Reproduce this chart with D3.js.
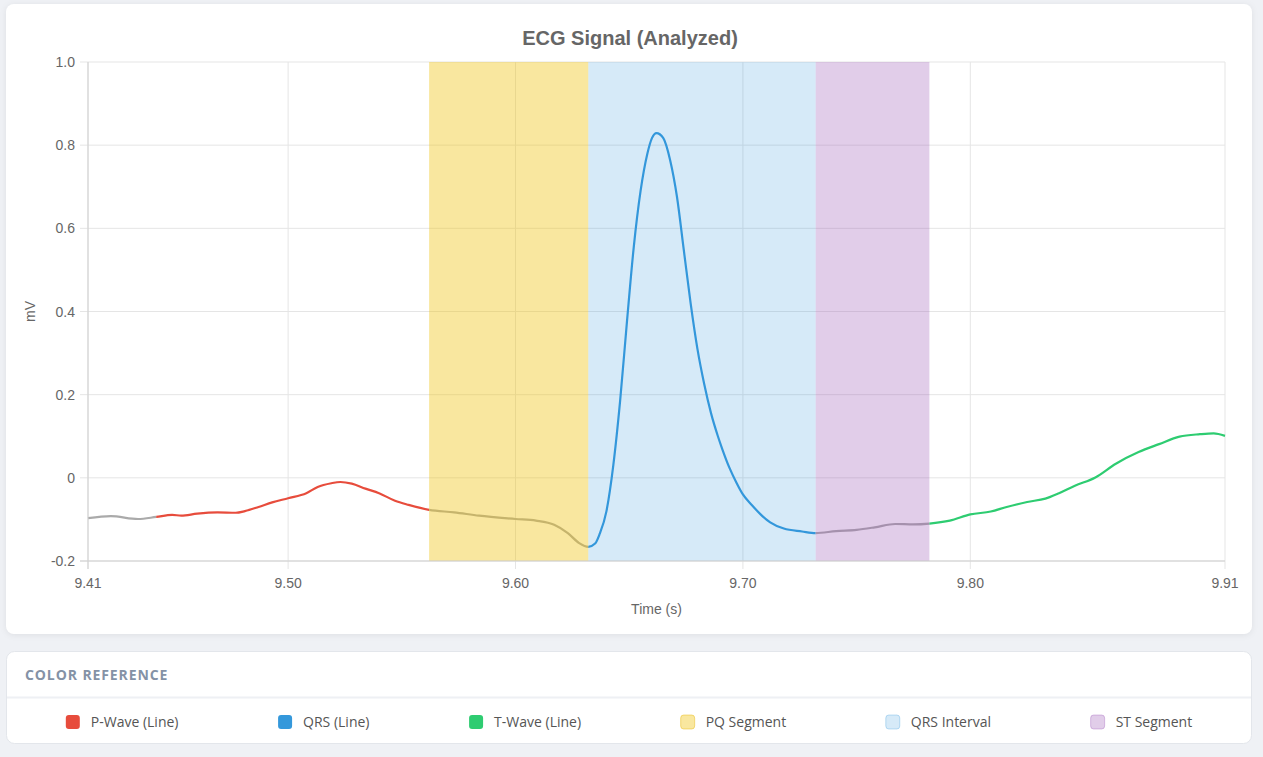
<!DOCTYPE html>
<html>
<head>
<meta charset="utf-8">
<script src="https://d3js.org/d3.v7.min.js"></script>
<style>
    body { margin: 0; background: #eff1f5; }
    svg { display: block; }
</style>
</head>
<body>
<svg width="1263" height="757"></svg>
<script>
    // ECG samples (s, mV)
    var times = [9.412, 9.422, 9.434, 9.442, 9.449, 9.453, 9.460, 9.469, 9.477, 9.481,
        9.487, 9.493, 9.500, 9.508, 9.513, 9.519, 9.523, 9.528, 9.534, 9.540,
        9.547, 9.553, 9.562, 9.573, 9.584, 9.600, 9.609, 9.617, 9.623, 9.628,
        9.632, 9.635, 9.637, 9.640, 9.643, 9.646, 9.649, 9.652, 9.655, 9.658,
        9.660, 9.662, 9.665, 9.668, 9.671, 9.674, 9.677, 9.680, 9.683, 9.686,
        9.689, 9.691, 9.694, 9.697, 9.700, 9.704, 9.708, 9.712, 9.718, 9.726,
        9.732, 9.741, 9.750, 9.758, 9.767, 9.775, 9.782, 9.791, 9.800, 9.809,
        9.816, 9.825, 9.833, 9.839, 9.846, 9.855, 9.864, 9.874, 9.883, 9.892,
        9.901, 9.907, 9.912];
    var values = [-0.097, -0.092, -0.099, -0.094, -0.089, -0.091, -0.086, -0.083, -0.084, -0.080,
        -0.070, -0.059, -0.049, -0.037, -0.022, -0.013, -0.010, -0.014, -0.026, -0.037,
        -0.055, -0.065, -0.077, -0.083, -0.091, -0.099, -0.103, -0.113, -0.133, -0.157,
        -0.166, -0.158, -0.135, -0.080, 0.030, 0.185, 0.375, 0.555, 0.690, 0.780,
        0.817, 0.829, 0.817, 0.764, 0.676, 0.548, 0.420, 0.310, 0.225, 0.155,
        0.100, 0.068, 0.025, -0.010, -0.040, -0.066, -0.089, -0.107, -0.122, -0.129,
        -0.133, -0.128, -0.125, -0.119, -0.111, -0.112, -0.110, -0.103, -0.088, -0.081,
        -0.070, -0.058, -0.050, -0.037, -0.019, 0.001, 0.034, 0.062, 0.081, 0.099,
        0.105, 0.107, 0.101];

    // line colouring: phase boundaries and the colour for each piece
    var lineBreaks = [9.412, 9.442, 9.562, 9.632, 9.732, 9.782, 9.912];
    var lineColors = ["#aaaaaa", "#e74c3c", "#aaaaaa", "#3498db", "#aaaaaa", "#2ecc71"];

    // shaded intervals
    var bandNames = ["PQ Segment", "QRS Interval", "ST Segment"];
    var bandStart = [9.562, 9.632, 9.732];
    var bandEnd = [9.632, 9.732, 9.782];
    var bandFill = ["rgba(241,196,15,0.4)", "rgba(52,152,219,0.2)", "rgba(155,89,182,0.3)"];
    var bandStroke = ["rgba(230,185,10,0.45)", "rgba(52,152,219,0.3)", "rgba(155,89,182,0.35)"];

    var xTicks = [9.412, 9.50, 9.60, 9.70, 9.80, 9.912];
    var yTicks = [-0.2, 0, 0.2, 0.4, 0.6, 0.8, 1.0];

    var legendNames = ["P-Wave (Line)", "QRS (Line)", "T-Wave (Line)"].concat(bandNames);
    var legendFill = ["#e74c3c", "#3498db", "#2ecc71"].concat(bandFill);
    var legendStroke = ["none", "none", "none"].concat(bandStroke);

    var svg = d3.select("svg");

    // cards
    svg.append("rect")
        .attr("x", 6).attr("y", 4).attr("width", 1246).attr("height", 630)
        .attr("rx", 8).attr("fill", "#fff")
        .style("filter", "drop-shadow(0 1px 3px rgba(0,0,0,0.07))");
    svg.append("rect")
        .attr("x", 6.5).attr("y", 651.5).attr("width", 1245).attr("height", 92)
        .attr("rx", 8).attr("fill", "#fff").attr("stroke", "#e3e6eb");

    var margin = { left: 88, right: 1225, top: 62, bottom: 561 };

    var x = d3.scaleLinear().domain([9.412, 9.912]).range([margin.left, margin.right]);
    var y = d3.scaleLinear().domain([-0.2, 1.0]).range([margin.bottom, margin.top]);

    var plot = svg.append("g");

    // grid
    plot.append("g").selectAll("line")
        .data(xTicks).enter().append("line")
        .attr("x1", function(d) { return x(d); }).attr("x2", function(d) { return x(d); })
        .attr("y1", margin.top).attr("y2", margin.bottom + 8)
        .attr("stroke", "#e5e5e5");
    plot.append("g").selectAll("line")
        .data(yTicks).enter().append("line")
        .attr("x1", margin.left - 8).attr("x2", margin.right)
        .attr("y1", function(d) { return y(d); }).attr("y2", function(d) { return y(d); })
        .attr("stroke", "#e5e5e5");

    // signal, one clipped copy per phase colour
    var pts = times.map(function(t, i) { return [t, values[i]]; });
    var line = d3.line()
        .x(function(d) { return x(d[0]); })
        .y(function(d) { return y(d[1]); })
        .curve(d3.curveMonotoneX);

    var defs = svg.append("defs");
    lineColors.forEach(function(c, i) {
        defs.append("clipPath").attr("id", "seg" + i)
            .append("rect")
            .attr("x", x(lineBreaks[i]) - (i === 0 ? 3 : 0))
            .attr("width", x(lineBreaks[i + 1]) - x(lineBreaks[i]) + (i === 0 || i === lineColors.length - 1 ? 3 : 0))
            .attr("y", 0).attr("height", 757);
        plot.append("path")
            .attr("d", line(pts))
            .attr("fill", "none")
            .attr("stroke", c)
            .attr("stroke-width", 2.2)
            .attr("stroke-linejoin", "round")
            .attr("clip-path", "url(#seg" + i + ")");
    });

    // shaded intervals on top of the trace
    plot.append("g").selectAll("rect")
        .data(bandNames).enter().append("rect")
        .attr("x", function(d, i) { return x(bandStart[i]); })
        .attr("width", function(d, i) { return x(bandEnd[i]) - x(bandStart[i]); })
        .attr("y", margin.top)
        .attr("height", margin.bottom - margin.top)
        .attr("fill", function(d, i) { return bandFill[i]; });

    // axis borders
    plot.append("line")
        .attr("x1", margin.left).attr("x2", margin.left)
        .attr("y1", margin.top).attr("y2", margin.bottom + 8)
        .attr("stroke", "#d0d0d0");
    plot.append("line")
        .attr("x1", margin.left - 8).attr("x2", margin.right)
        .attr("y1", margin.bottom).attr("y2", margin.bottom)
        .attr("stroke", "#d0d0d0");

    var tickFont = "'Liberation Sans', Arial, sans-serif";

    plot.append("g").selectAll("text")
        .data(xTicks).enter().append("text")
        .attr("x", function(d) { return x(d); })
        .attr("y", 588)
        .attr("text-anchor", "middle")
        .style("font", "14px " + tickFont)
        .attr("fill", "#666")
        .text(function(d) { return d.toFixed(2); });

    plot.append("g").selectAll("text")
        .data(yTicks).enter().append("text")
        .attr("x", margin.left - 13)
        .attr("y", function(d) { return y(d) + 5; })
        .attr("text-anchor", "end")
        .style("font", "14px " + tickFont)
        .attr("fill", "#666")
        .text(function(d) { return d === 0 ? "0" : d.toFixed(1); });

    svg.append("text")
        .attr("x", (margin.left + margin.right) / 2)
        .attr("y", 614)
        .attr("text-anchor", "middle")
        .style("font", "14px " + tickFont)
        .attr("fill", "#666")
        .text("Time (s)");

    svg.append("text")
        .attr("transform", "translate(35," + (margin.top + margin.bottom) / 2 + ") rotate(-90)")
        .attr("text-anchor", "middle")
        .style("font", "14px " + tickFont)
        .attr("fill", "#666")
        .text("mV");

    svg.append("text")
        .attr("x", 630)
        .attr("y", 45)
        .attr("text-anchor", "middle")
        .style("font", "bold 20px " + tickFont)
        .attr("fill", "#666")
        .text("ECG Signal (Analyzed)");

    // legend card
    svg.append("text")
        .attr("x", 25).attr("y", 680)
        .style("font", "bold 14px 'Open Sans', sans-serif")
        .style("letter-spacing", "0.9px")
        .attr("fill", "#8492a6")
        .text("COLOR REFERENCE");
    svg.append("line")
        .attr("x1", 7).attr("x2", 1251)
        .attr("y1", 697.5).attr("y2", 697.5)
        .attr("stroke", "#eef0f4").attr("stroke-width", 2);

    var items = svg.append("g").selectAll("g")
        .data(legendNames).enter().append("g");
    items.append("rect")
        .attr("width", 14).attr("height", 14)
        .attr("y", 715).attr("rx", 3)
        .attr("fill", function(d, i) { return legendFill[i]; })
        .attr("stroke", function(d, i) { return legendStroke[i]; });
    items.append("text")
        .attr("x", 25).attr("y", 727)
        .style("font", "14px 'Open Sans', sans-serif")
        .attr("fill", "#555")
        .text(function(d) { return d; });

    // space-around layout
    var widths = [];
    items.each(function() { widths.push(25 + d3.select(this).select("text").node().getComputedTextLength()); });
    var inner = [16, 1242];
    var free = (inner[1] - inner[0]) - d3.sum(widths);
    var gap = free / widths.length;
    var pos = inner[0] + gap / 2;
    items.each(function(d, i) {
        d3.select(this).attr("transform", "translate(" + pos + ",0)");
        pos += widths[i] + gap;
    });
</script>
</body>
</html>
